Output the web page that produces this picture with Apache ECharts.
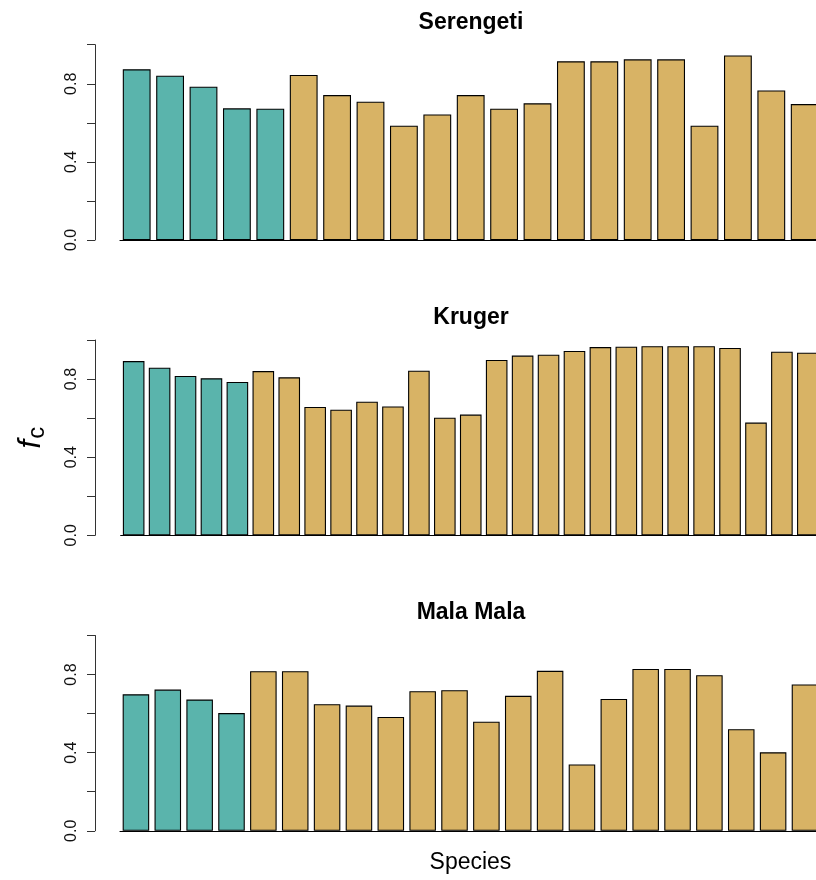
<!DOCTYPE html>
<html>
<head>
<meta charset="utf-8">
<script src="https://cdn.jsdelivr.net/npm/echarts@6/dist/echarts.min.js"></script>
<style>html,body{margin:0;padding:0;background:#fff}#c{width:816px;height:880px}</style>
</head>
<body>
<div id="c"></div>
<script>
// ---- data ----
const panelTitles = ['Serengeti', 'Kruger', 'Mala Mala'];
const serengetiValues = [0.874, 0.841, 0.785, 0.674, 0.672, 0.845, 0.742, 0.708, 0.585, 0.643, 0.742, 0.672, 0.700, 0.915, 0.915, 0.925, 0.925, 0.585, 0.945, 0.766, 0.696];
const krugerValues = [0.892, 0.858, 0.816, 0.804, 0.785, 0.841, 0.809, 0.657, 0.643, 0.684, 0.660, 0.843, 0.602, 0.618, 0.898, 0.920, 0.925, 0.944, 0.964, 0.966, 0.968, 0.968, 0.968, 0.959, 0.577, 0.940, 0.935];
const malaMalaValues = [0.699, 0.723, 0.672, 0.603, 0.817, 0.817, 0.648, 0.641, 0.583, 0.715, 0.720, 0.559, 0.691, 0.819, 0.340, 0.675, 0.829, 0.829, 0.797, 0.520, 0.402, 0.749];
// number of leading bars in the first (teal) group per panel
const tealCounts = [5, 5, 4];
const yTickValues = [0, 0.2, 0.4, 0.6, 0.8, 1.0];
const yTickLabels = ['0.0', '', '0.4', '', '0.8', ''];
const xAxisTitle = 'Species';

// ---- styling / layout ----
const TEAL = '#5AB4AC', TAN = '#D8B365';
const FONT = 'Liberation Sans, Arial, Helvetica, sans-serif';
const panels = [
  { values: serengetiValues, left: 120, top: 44.7, width: 701.4 },
  { values: krugerValues,    left: 120.7, top: 340, width: 700.1 },
  { values: malaMalaValues,  left: 120, top: 635.5, width: 700.9 }
];
const PANEL_H = 195.3, AXIS_X = 95;

const grid = [], xAxis = [], yAxis = [], series = [], title = [];
panels.forEach((p, i) => {
  grid.push({ left: p.left, top: p.top, width: p.width, height: PANEL_H, containLabel: false, outerBoundsMode: 'none' });
  const cats = p.values.map((_, k) => String(k + 1));
  xAxis.push({
    type: 'category', gridIndex: i, data: cats,
    axisLine: { show: true, lineStyle: { color: '#000', width: 1.2 } },
    axisTick: { show: false }, axisLabel: { show: false }, splitLine: { show: false },
    name: i === 2 ? xAxisTitle : '', nameLocation: 'middle', nameGap: 20,
    nameTextStyle: { fontSize: 23, fontFamily: FONT, color: '#000' }
  });
  yAxis.push({
    type: 'value', gridIndex: i, min: 0, max: 1, interval: 0.2,
    offset: p.left - AXIS_X,
    axisLine: { show: true, lineStyle: { color: '#333', width: 1 } },
    axisTick: { show: true, inside: false, length: 8, lineStyle: { color: '#333', width: 1 } },
    splitLine: { show: false },
    axisLabel: {
      rotate: 90, margin: 15, fontSize: 16, fontFamily: FONT, color: '#111',
      formatter: v => { const idx = yTickValues.findIndex(t => Math.abs(t - v) < 1e-6); return idx >= 0 ? yTickLabels[idx] : ''; }
    },
    name: i === 1 ? '{f|f}{c|c}' : '', nameLocation: 'middle', nameRotate: 90, nameGap: 48,
    nameTextStyle: {
      rich: {
        f: { fontSize: 31, fontStyle: 'italic', fontFamily: FONT, color: '#000', lineHeight: 32 },
        c: { fontSize: 24, fontFamily: FONT, color: '#000', padding: [13, 0, 0, 1], lineHeight: 32 }
      }
    }
  });
  series.push({
    type: 'bar', xAxisIndex: i, yAxisIndex: i, barCategoryGap: '16.7%', animation: false,
    data: p.values.map((v, k) => ({ value: v, itemStyle: { color: k < tealCounts[i] ? TEAL : TAN } })),
    itemStyle: { borderColor: '#000', borderWidth: 1.1 }
  });
  title.push({
    text: panelTitles[i], left: 471, top: p.top - 34, textAlign: 'center', padding: 0,
    textStyle: { fontSize: 23, fontWeight: 'bold', fontFamily: FONT, color: '#000' }
  });
});

const chart = echarts.init(document.getElementById('c'), null, { renderer: 'canvas' });
chart.setOption({ animation: false, backgroundColor: '#fff', title, grid, xAxis, yAxis, series });
</script>
</body>
</html>
